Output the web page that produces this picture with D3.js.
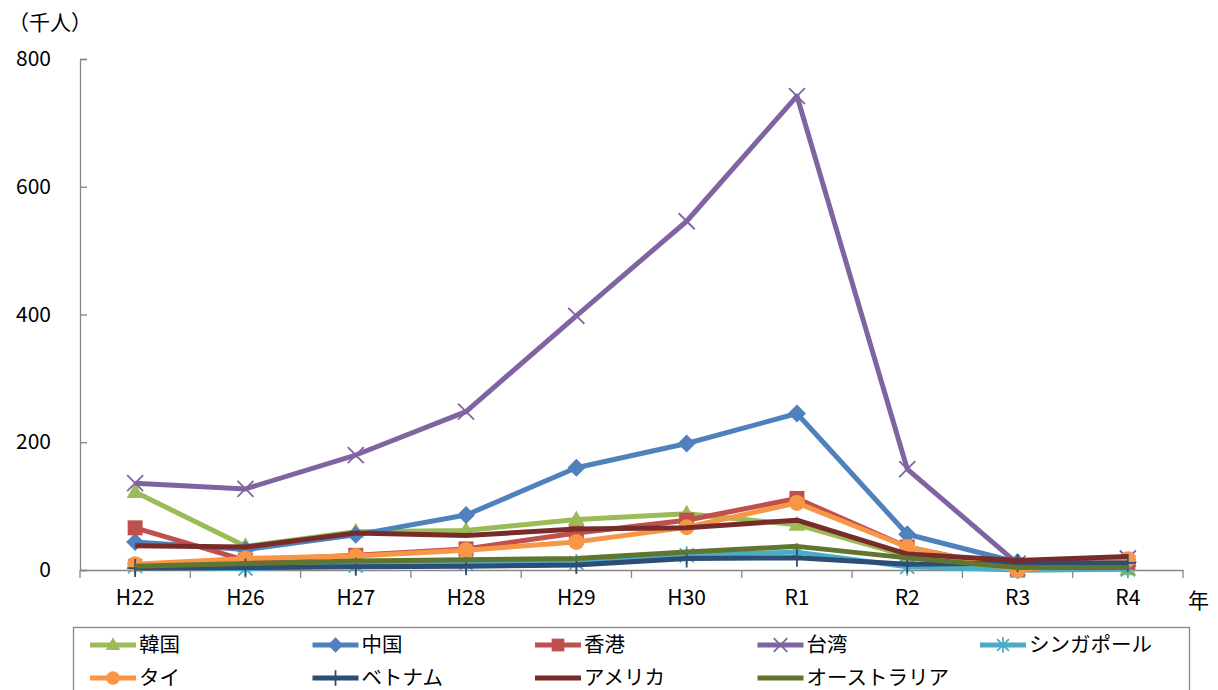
<!DOCTYPE html>
<html><head><meta charset="utf-8">
<script src="https://cdn.jsdelivr.net/npm/d3@7"></script>
<style>body{margin:0;background:#fff}svg{display:block}text{font-family:"Noto Sans CJK JP","Noto Sans",sans-serif}</style>
</head><body><svg id="c" width="1218" height="690"></svg>
<script>
const categories = ["H22","H26","H27","H28","H29","H30","R1","R2","R3","R4"];
const yTicks = [0,200,400,600,800];
const korea     = [122, 37, 60, 62, 79, 88, 71, 22, 0, 1];
const china     = [44, 32, 55, 86, 160, 198, 245, 56, 12, 12];
const hongkong  = [66, 15, 23, 33, 58, 78, 112, 36, 0, 12];
const taiwan    = [136, 127, 180, 248, 398, 546, 742, 158, 10, 18];
const singapore = [6, 2, 7, 10, 11, 23, 28, 5, 0, 1];
const thai      = [9, 18, 22, 31, 44, 67, 105, 36, 0, 17];
const vietnam   = [3, 4, 5, 6, 8, 18, 19, 9, 11, 11];
const america   = [38, 36, 58, 54, 64, 66, 78, 25, 15, 21];
const australia = [6, 10, 14, 16, 18, 28, 37, 19, 4, 4];
const seriesNames = ["韓国","中国","香港","台湾","シンガポール","タイ","ベトナム","アメリカ","オーストラリア"];

const series = [
  {name:seriesNames[0], v:korea, c:"#9BBB59", m:"tri"},
  {name:seriesNames[1], v:china, c:"#4F81BD", m:"dia"},
  {name:seriesNames[2], v:hongkong, c:"#C0504D", m:"sq"},
  {name:seriesNames[3], v:taiwan, c:"#8064A2", m:"x"},
  {name:seriesNames[4], v:singapore, c:"#4BACC6", m:"star"},
  {name:seriesNames[5], v:thai, c:"#F79646", m:"circ"},
  {name:seriesNames[6], v:vietnam, c:"#2C4D75", m:"plus"},
  {name:seriesNames[7], v:america, c:"#772C2A", m:"none"},
  {name:seriesNames[8], v:australia, c:"#5F7530", m:"none"}
];

const svg = d3.select("#c");
const L=80, R=1183, T=59, B=570;
const x = d3.scaleBand().domain(categories).range([L,R]);
const y = d3.scaleLinear().domain([0,800]).range([B,T]);
const axisCol="#868686";

// y axis
const ya = svg.append("g").attr("transform",`translate(${L},0)`)
  .call(d3.axisLeft(y).tickValues(yTicks).tickSize(-7).tickFormat(d3.format("d")));
ya.select(".domain").attr("stroke",axisCol).attr("stroke-width",1.3);
ya.selectAll(".tick line").attr("stroke",axisCol).attr("stroke-width",1.3);
ya.selectAll("text").attr("font-size",21).attr("fill","#000").attr("text-anchor","end").attr("x",-29);

// x axis
const xa = svg.append("g").attr("transform",`translate(0,${B})`)
  .call(d3.axisBottom(x).tickSize(0).tickPadding(20));
xa.select(".domain").attr("stroke",axisCol).attr("stroke-width",1.3);
xa.selectAll("text").attr("font-size",21).attr("fill","#000");
const bounds = categories.map(c=>x(c)).concat([R]);
svg.append("g").selectAll("line").data(bounds).join("line")
  .attr("x1",d=>d).attr("x2",d=>d).attr("y1",B).attr("y2",B+8)
  .attr("stroke",axisCol).attr("stroke-width",1.3);

svg.append("text").attr("x",8).attr("y",30).attr("font-size",21).text("（千人）");
svg.append("text").attr("x",1188).attr("y",608).attr("font-size",21).text("年");

function marker(g, type, color, cx, cy, s){
  s = s||1;
  if(type==="tri") g.append("path").attr("d",`M${cx},${cy-9*s}L${cx+8.5*s},${cy+6*s}L${cx-8.5*s},${cy+6*s}Z`).attr("fill",color);
  else if(type==="dia") g.append("path").attr("d",`M${cx},${cy-9*s}L${cx+9*s},${cy}L${cx},${cy+9*s}L${cx-9*s},${cy}Z`).attr("fill",color);
  else if(type==="sq") g.append("rect").attr("x",cx-7.5*s).attr("y",cy-7.5*s).attr("width",15*s).attr("height",15*s).attr("fill",color);
  else if(type==="circ") g.append("circle").attr("cx",cx).attr("cy",cy).attr("r",8*s).attr("fill",color);
  else if(type==="x") g.append("path").attr("d",`M${cx-8*s},${cy-8*s}L${cx+8*s},${cy+8*s}M${cx+8*s},${cy-8*s}L${cx-8*s},${cy+8*s}`).attr("stroke",color).attr("stroke-width",1.8);
  else if(type==="star") g.append("path").attr("d",`M${cx-7*s},${cy-7*s}L${cx+7*s},${cy+7*s}M${cx+7*s},${cy-7*s}L${cx-7*s},${cy+7*s}M${cx},${cy-9*s}L${cx},${cy+9*s}`).attr("stroke",color).attr("stroke-width",1.8);
  else if(type==="plus") g.append("path").attr("d",`M${cx},${cy-9*s}L${cx},${cy+9*s}M${cx-8*s},${cy}L${cx+8*s},${cy}`).attr("stroke",color).attr("stroke-width",1.8);
}

const line = d3.line().x((d,i)=>x(categories[i])+x.bandwidth()/2).y(d=>y(d));
const plot = svg.append("g");
series.forEach(s=>{
  const g = plot.append("g");
  g.append("path").attr("d",line(s.v)).attr("fill","none").attr("stroke",s.c).attr("stroke-width",5).attr("stroke-linejoin","round");
  s.v.forEach((d,i)=>marker(g,s.m,s.c,x(categories[i])+x.bandwidth()/2,y(d)));
});

// legend
const lg = svg.append("g");
lg.append("rect").attr("x",73.5).attr("y",627.5).attr("width",1116).attr("height",80).attr("fill","#fff").attr("stroke",axisCol).attr("stroke-width",1.3);
series.forEach((s,i)=>{
  const col=i%5, row=Math.floor(i/5);
  const lx = 90 + col*222.5, ly = 645 + row*33;
  const gg = lg.append("g");
  gg.append("line").attr("x1",lx).attr("x2",lx+46).attr("y1",ly).attr("y2",ly).attr("stroke",s.c).attr("stroke-width",5);
  marker(gg,s.m,s.c,lx+23,ly,0.85);
  gg.append("text").attr("x",lx+49).attr("y",ly+7).attr("font-size",20.5).text(s.name);
});
</script></body></html>
